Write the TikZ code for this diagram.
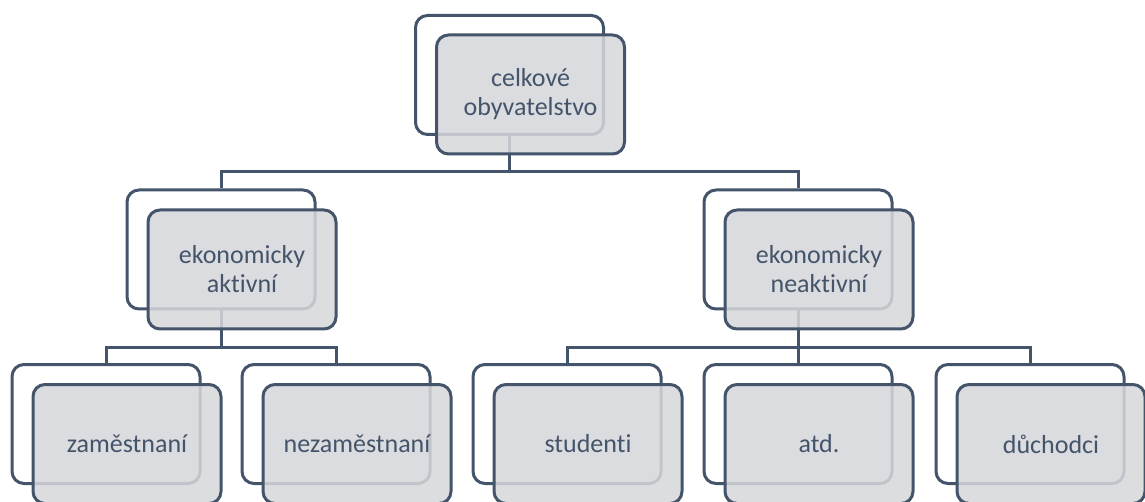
\documentclass[tikz,border=0pt]{standalone}
\usepackage{fontspec}
\setmainfont{Carlito}[Ligatures=NoCommon]
\definecolor{edge}{RGB}{68,84,106}
\definecolor{boxfill}{RGB}{214,215,218}
\begin{document}
\begin{tikzpicture}[x=1pt,y=1pt,
  backbox/.style={draw=edge, line width=3pt, fill=white, rectangle, rounded corners=12pt,
    minimum width=188pt, minimum height=119pt, inner sep=0pt},
  frontbox/.style={draw=edge, line width=3pt, fill=boxfill, fill opacity=0.86, text opacity=1,
    rectangle, rounded corners=12pt, minimum width=188pt, minimum height=119pt, inner sep=0pt,
    text=edge, align=center, font=\fontsize{26}{29}\selectfont},
  conn/.style={draw=edge, line width=3pt}]
\useasboundingbox (0,0) rectangle (1145,-502);
% back boxes
\node[backbox] (b0) at (509.5,-75) {};
\node[backbox] (b1) at (221,-249.5) {};
\node[backbox] (b2) at (798,-249.5) {};
\node[backbox] (b3) at (106,-424) {};
\node[backbox] (b4) at (336,-424) {};
\node[backbox] (b5) at (567,-424) {};
\node[backbox] (b6) at (798,-424) {};
\node[backbox] (b7) at (1030,-424) {};
% connectors
\coordinate (j0) at (509.5,-172);
\coordinate (j1) at (221,-347);
\coordinate (j2) at (798,-347);
\draw[conn] (b0.south) -- (j0) -| (b1.north);
\draw[conn] (j0) -| (b2.north);
\draw[conn] (b1.south) -- (j1) -| (b3.north);
\draw[conn] (j1) -| (b4.north);
\draw[conn] (b2.south) -- (j2) -| (b5.north);
\draw[conn] (j2) -- (b6.north);
\draw[conn] (j2) -| (b7.north);
% front boxes
\node[frontbox] (f0) at (530.5,-94.5) {celkové\\obyvatelstvo};
\node[frontbox] (f1) at (242,-269.5) {ekonomicky\\aktivní};
\node[frontbox] (f2) at (819,-269.5) {ekonomicky\\neaktivní};
\node[frontbox] (f3) at (127,-444) {zaměstnaní};
\node[frontbox] (f4) at (357,-444) {nezaměstnaní};
\node[frontbox] (f5) at (588,-444) {studenti};
\node[frontbox] (f6) at (819,-444) {atd.};
\node[frontbox] (f7) at (1051,-444) {důchodci};
\end{tikzpicture}
\end{document}
